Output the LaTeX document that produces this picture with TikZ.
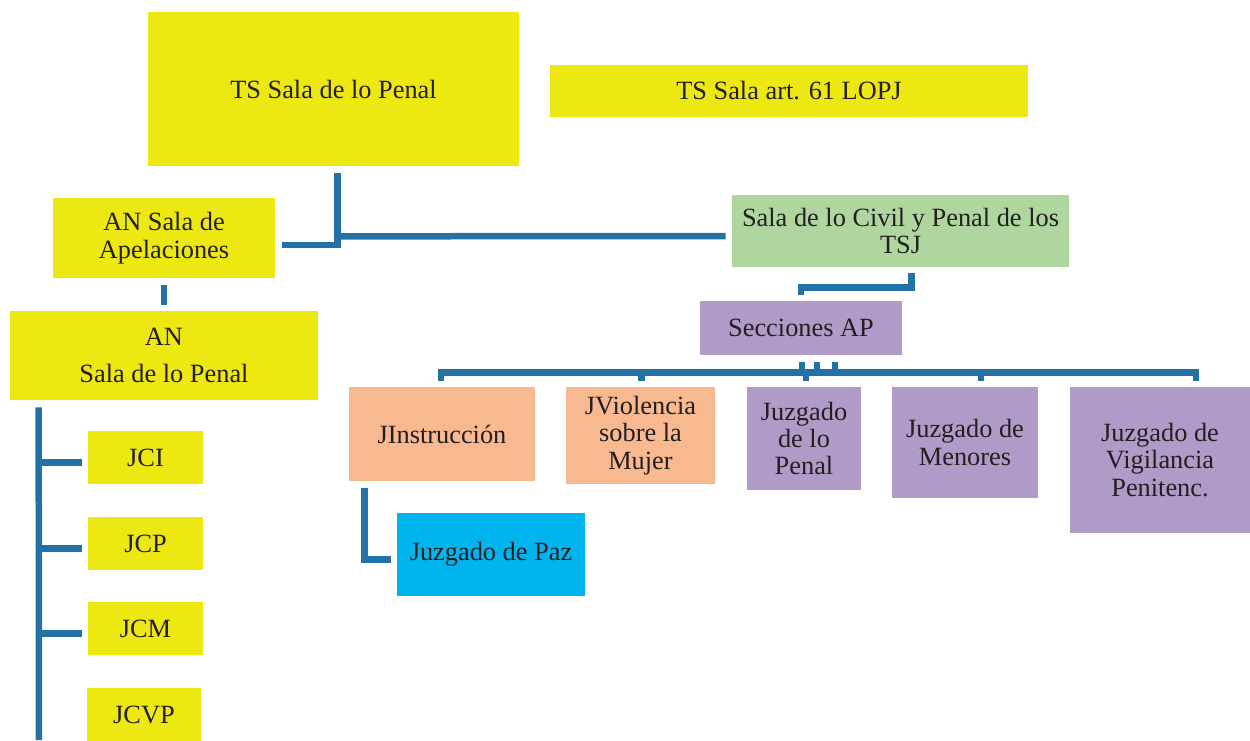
\documentclass[tikz,border=0pt]{standalone}
\usepackage{fontspec}
\setmainfont{Liberation Serif}
\newfontfamily\boxfont{Liberation Serif}
\usepackage{tikz}
\usetikzlibrary{calc,positioning}

\definecolor{tsyellow}{RGB}{237,232,18}
\definecolor{tsjgreen}{RGB}{174,214,158}
\definecolor{aplilac}{RGB}{176,154,200}
\definecolor{jsalmon}{RGB}{248,184,144}
\definecolor{pazcyan}{RGB}{0,180,238}
\definecolor{connblue}{RGB}{36,113,165}
\definecolor{boxtext}{RGB}{35,31,32}

\begin{document}
\begin{tikzpicture}[
                x=0.02cm, y=-0.02cm,
                box/.style={inner sep=0pt, align=center, text=boxtext,
                    font=\boxfont\fontsize{15}{15.6}\selectfont},
                sized/.style 2 args={minimum width=#1*0.02cm, minimum height=#2*0.02cm},
                conn/.style={draw=connblue, line width=0.13cm}
            ]
                \useasboundingbox (0,0) rectangle (1250,740);
                % tribunal supremo y audiencia nacional
                \node[box, fill=tsyellow, sized={371}{154}] (tspenal) at (333.5,89) {TS Sala de lo Penal};
                \node[box, fill=tsyellow, sized={478}{52}] (tsart) at (789,91) {TS Sala art. 61 LOPJ};
                \node[box, fill=tsyellow, sized={222}{80}] (anapel) at (164,238) {AN Sala de\\Apelaciones};
                \node[box, fill=tsyellow, sized={308}{89}] (anpenal) at (164,355.5) {AN\\[5pt]Sala de lo Penal};
                \node[box, fill=tsyellow, sized={115}{53}] (jci) at (145.5,457.5) {JCI};
                \node[box, fill=tsyellow, sized={115}{53}] (jcp) at (145.5,543.5) {JCP};
                \node[box, fill=tsyellow, sized={115}{53}] (jcm) at (145.5,628.5) {JCM};
                \node[box, fill=tsyellow, sized={114}{54}] (jcvp) at (144,715) {JCVP};
                % tsj y audiencias provinciales
                \node[box, fill=tsjgreen, sized={337}{72}] (tsj) at (900.5,231) {Sala de lo Civil y Penal de los\\TSJ};
                \node[box, fill=aplilac, sized={202}{54}] (secc) at (801,328) {Secciones AP};
                \node[box, fill=jsalmon, sized={186}{94}] (jinst) at (442,434) {JInstrucci\'on};
                \node[box, fill=jsalmon, sized={149}{97}] (jviol) at (640.5,435.5) {JViolencia\\sobre la\\Mujer};
                \node[box, fill=aplilac, sized={114}{103}] (jpenal) at (804,438.5) {Juzgado\\de lo\\Penal};
                \node[box, fill=aplilac, sized={146}{111}] (jmenor) at (965,442.5) {Juzgado de\\Menores};
                \node[box, fill=aplilac, sized={180}{146}] (jvigil) at (1160,460) {Juzgado de\\Vigilancia\\Penitenc.};
                \node[box, fill=pazcyan, sized={188}{83}] (paz) at (491,554.5) {Juzgado de Paz};
                % conectores
                \draw[conn] ($(tspenal.south)+(4,7)$) |- ($(anapel.east)+(7,7)$);
                \draw[conn] ($(tspenal.south)+(4,70)$) -- ($(tsj.west)+(-6,5)$);
                \draw[conn] ($(anapel.south)+(0,7)$) -- ($(anpenal.north)+(0,-6)$);
                \coordinate (lbot) at (39,740);
                \draw[conn] ($(anpenal.south west)+(29,7)$) -- (lbot);
                \foreach \j in {jci,jcp,jcm} {
                    \draw[conn] ($(\j.west -| lbot)+(0,5)$) -- ($(\j.west)+(-6,5)$);
                }
                \draw[conn] ($(tsj.south)+(11,6)$) |- ($(secc.north)+(0,-13)$) -- ($(secc.north)+(0,-6)$);
                \foreach \dx in {1,16,34} {
                    \draw[conn] ($(secc.south)+(\dx,7)$) -- ++(0,11);
                }
                \draw[conn] ($(jinst.north)+(-1,-6)$) |- ($(jvigil.north)+(36,-14)$) -- ($(jvigil.north)+(36,-6)$);
                \draw[conn] ($(jviol.north)+(1,-14)$) -- ++(0,8);
                \draw[conn] ($(jpenal.north)+(2,-14)$) -- ++(0,8);
                \draw[conn] ($(jmenor.north)+(16,-14)$) -- ++(0,8);
                \draw[conn] ($(jinst.south west)+(16,7)$) |- ($(paz.west)+(-6,5)$);
            \end{tikzpicture}
\end{document}
